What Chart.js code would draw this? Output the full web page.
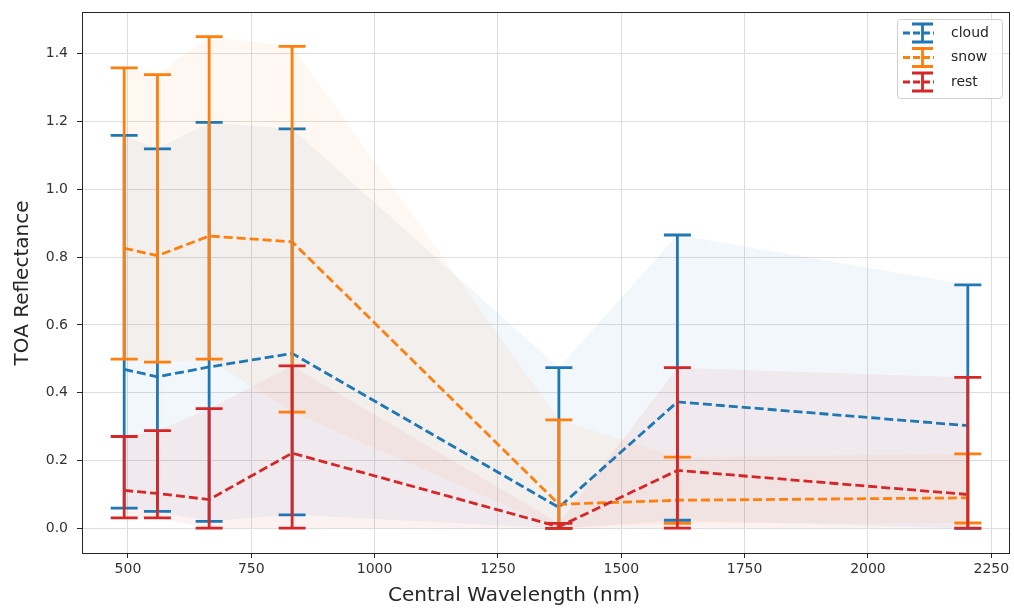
<!DOCTYPE html>
<html>
<head>
<meta charset="utf-8">
<script src="https://cdn.jsdelivr.net/npm/chart.js@4/dist/chart.umd.min.js"></script>
<style>
    html, body { margin: 0; padding: 0; background: #fff; }
    #wrap { width: 1014px; height: 610px; }
</style>
</head>
<body>
<div id="wrap"><canvas id="chart" width="1014" height="610"></canvas></div>
<script>
// central wavelengths (nm)
const wavelengths = [492.4, 559.8, 664.6, 832.8, 1373.5, 1613.7, 2202.4]

const cloudMean = [0.469, 0.447, 0.476, 0.516, 0.062, 0.373, 0.303]
const cloudLow = [0.06, 0.05, 0.021, 0.04, 0.0, 0.024, 0.0]
const cloudHigh = [1.159, 1.119, 1.197, 1.178, 0.474, 0.865, 0.718]

const snowMean = [0.826, 0.804, 0.862, 0.845, 0.071, 0.083, 0.09]
const snowLow = [0.499, 0.49, 0.499, 0.343, 0.0, 0.015, 0.016]
const snowHigh = [1.358, 1.338, 1.45, 1.421, 0.32, 0.21, 0.22]

const restMean = [0.112, 0.103, 0.085, 0.222, 0.005, 0.171, 0.1]
const restLow = [0.031, 0.031, 0.001, 0.001, 0.0, 0.001, 0.001]
const restHigh = [0.271, 0.288, 0.353, 0.479, 0.015, 0.474, 0.445]

const xTicks = [500, 750, 1000, 1250, 1500, 1750, 2000, 2250]
const yTicks = [0.0, 0.2, 0.4, 0.6, 0.8, 1.0, 1.2, 1.4]

const series = [
    { label: "cloud", color: "31, 119, 180", mean: cloudMean, low: cloudLow, high: cloudHigh },
    { label: "snow", color: "255, 127, 14", mean: snowMean, low: snowLow, high: snowHigh },
    { label: "rest", color: "214, 39, 40", mean: restMean, low: restLow, high: restHigh },
]

const FONT = "'DejaVu Sans', sans-serif"
const pts = (arr) => arr.map((y, i) => ({ x: wavelengths[i], y: y }))

const datasets = []
series.forEach((s, k) => {
    datasets.push({
        label: s.label + "_low",
        data: pts(s.low),
        borderWidth: 0,
        pointRadius: 0,
        fill: false,
        order: 20 - k * 2,
    })
    datasets.push({
        label: s.label + "_high",
        data: pts(s.high),
        borderWidth: 0,
        pointRadius: 0,
        fill: "-1",
        backgroundColor: `rgba(${s.color}, 0.06)`,
        order: 19 - k * 2,
    })
})
series.forEach((s, k) => {
    datasets.push({
        label: s.label,
        data: pts(s.mean),
        borderColor: `rgb(${s.color})`,
        borderWidth: 2.8,
        borderDash: [9, 4],
        pointRadius: 0,
        fill: false,
        tension: 0,
        order: 5 - k,
    })
})

// error bars drawn on top of the lines
const errorBars = {
    id: "errorBars",
    afterDatasetsDraw(chart) {
        const { ctx, scales } = chart
        const capHalf = 13.5
        ctx.save()
        ctx.lineWidth = 2.8
        ctx.lineCap = "butt"
        series.forEach((s) => {
            ctx.strokeStyle = `rgb(${s.color})`
            wavelengths.forEach((w, i) => {
                const px = scales.x.getPixelForValue(w)
                const yl = scales.y.getPixelForValue(s.low[i])
                const yh = scales.y.getPixelForValue(s.high[i])
                ctx.beginPath()
                ctx.moveTo(px, yl)
                ctx.lineTo(px, yh)
                ctx.moveTo(px - capHalf, yl)
                ctx.lineTo(px + capHalf, yl)
                ctx.moveTo(px - capHalf, yh)
                ctx.lineTo(px + capHalf, yh)
                ctx.stroke()
            })
        })
        ctx.restore()
    },
}

// frame, axis titles and legend
const decorations = {
    id: "decorations",
    afterDraw(chart) {
        const { ctx, chartArea } = chart
        ctx.save()
        ctx.strokeStyle = "#262626"
        ctx.lineWidth = 1
        ctx.strokeRect(chartArea.left + 0.5, chartArea.top + 0.5,
            chartArea.right - chartArea.left - 1, chartArea.bottom - chartArea.top)

        ctx.fillStyle = "#262626"
        ctx.font = `20px ${FONT}`
        ctx.textAlign = "center"
        ctx.textBaseline = "middle"
        ctx.fillText("Central Wavelength (nm)", 514, 596)
        ctx.translate(23, 283)
        ctx.rotate(-Math.PI / 2)
        ctx.fillText("TOA Reflectance", 0, 0)
        ctx.restore()

        // legend
        ctx.save()
        const bx = 897, by = 19, bw = 105, bh = 79
        ctx.beginPath()
        ctx.roundRect(bx + 0.5, by + 0.5, bw, bh, 3)
        ctx.fillStyle = "rgba(255,255,255,0.8)"
        ctx.fill()
        ctx.strokeStyle = "#d0d0d0"
        ctx.lineWidth = 1
        ctx.stroke()
        series.forEach((s, k) => {
            const cy = 33 + k * 24.5
            ctx.strokeStyle = `rgb(${s.color})`
            ctx.lineWidth = 2.8
            ctx.setLineDash([7, 3])
            ctx.beginPath()
            ctx.moveTo(903, cy)
            ctx.lineTo(934, cy)
            ctx.stroke()
            ctx.setLineDash([])
            ctx.beginPath()
            ctx.moveTo(922.5, cy - 9)
            ctx.lineTo(922.5, cy + 9)
            ctx.moveTo(912, cy - 9)
            ctx.lineTo(933, cy - 9)
            ctx.moveTo(912, cy + 9)
            ctx.lineTo(933, cy + 9)
            ctx.stroke()
            ctx.fillStyle = "#262626"
            ctx.font = `14px ${FONT}`
            ctx.textAlign = "left"
            ctx.textBaseline = "middle"
            ctx.fillText(s.label, 951, cy)
        })
        ctx.restore()
    },
}

new Chart(document.getElementById("chart"), {
    type: "line",
    data: { datasets: datasets },
    plugins: [errorBars, decorations],
    options: {
        responsive: false,
        animation: false,
        layout: { padding: { top: 12, right: 4, left: 0, bottom: 0 } },
        plugins: {
            legend: { display: false },
            tooltip: { enabled: false },
            title: { display: false },
        },
        scales: {
            x: {
                type: "linear",
                min: 406.9,
                max: 2287.9,
                afterFit: (scale) => {
                    scale.height = 57
                    scale.paddingLeft = 0
                    scale.paddingRight = 0
                },
                afterBuildTicks: (scale) => { scale.ticks = xTicks.map((v) => ({ value: v })) },
                grid: { color: "#dedede", lineWidth: 1, tickLength: 5, tickColor: "#262626" },
                border: { display: false },
                ticks: {
                    color: "#333",
                    font: { family: FONT, size: 14 },
                    padding: 3,
                    maxRotation: 0,
                    callback: (v) => String(v),
                },
            },
            y: {
                type: "linear",
                min: -0.0725,
                max: 1.5225,
                afterFit: (scale) => {
                    scale.width = 82
                    scale.paddingTop = 0
                    scale.paddingBottom = 0
                },
                afterBuildTicks: (scale) => { scale.ticks = yTicks.map((v) => ({ value: v })) },
                grid: { color: "#dedede", lineWidth: 1, tickLength: 5, tickColor: "#262626" },
                border: { display: false },
                ticks: {
                    color: "#333",
                    font: { family: FONT, size: 14 },
                    padding: 9,
                    callback: (v) => v.toFixed(1),
                },
            },
        },
    },
})
</script>
</body>
</html>
